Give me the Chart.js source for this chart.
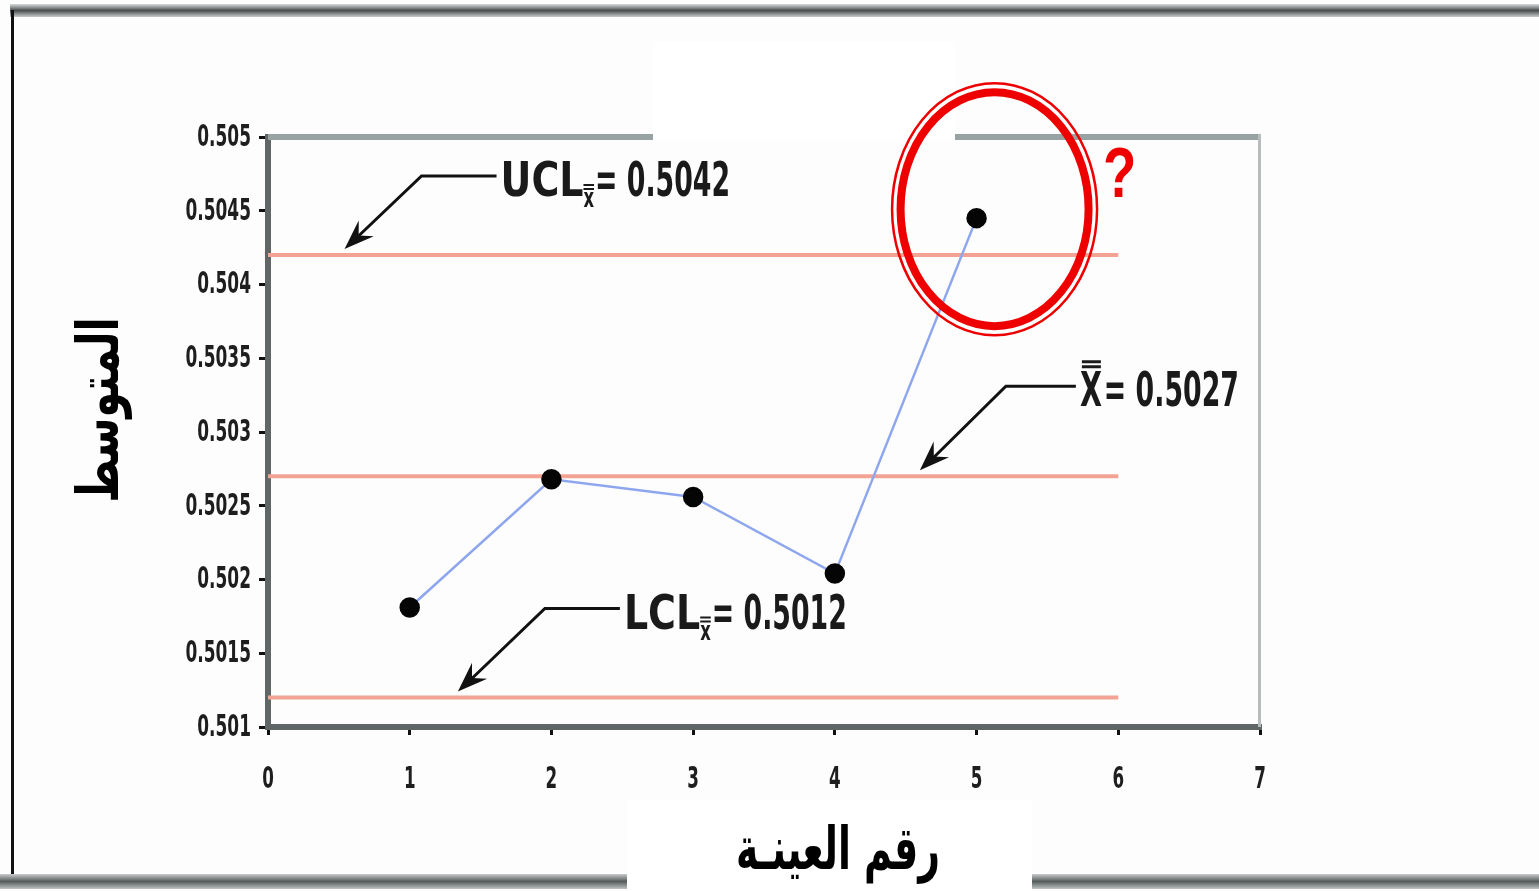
<!DOCTYPE html>
<html>
<head>
<meta charset="utf-8">
<script src="https://cdn.jsdelivr.net/npm/chart.js@4.4.1/dist/chart.umd.min.js"></script>
<style>
html,body{margin:0;padding:0;background:#fff;}
#wrap{width:1539px;height:891px;position:relative;}
canvas{display:block;}
</style>
</head>
<body>
<div id="wrap"><canvas id="c" width="1539" height="891"></canvas></div>
<script>
// ---- data ----
const sampleNumbers = [1, 2, 3, 4, 5];
const sampleMeans = [0.50181, 0.50268, 0.50256, 0.50204, 0.50445];
const controlNames = ['UCL', 'CL', 'LCL'];
const controlValues = [0.5042, 0.5027, 0.5012];
const controlSpan = [0, 6];
const xTickValues = [0, 1, 2, 3, 4, 5, 6, 7];
const yTickLabels = ['0.501', '0.5015', '0.502', '0.5025', '0.503', '0.5035', '0.504', '0.5045', '0.505'];
const xTitle = 'رقم العينـة';
const yTitle = 'المتوسط';

const COND = '"DejaVu Sans Condensed","Liberation Sans Narrow","DejaVu Sans",sans-serif';
const AR = '"DejaVu Sans","Noto Sans",sans-serif';

const lineDatasets = controlValues.map((v, i) => ({
  label: controlNames[i],
  data: controlSpan.map(x => ({x: x, y: v})),
  borderColor: '#f2a394',
  borderWidth: 4,
  pointRadius: 0,
  showLine: true,
  order: 2
}));

const meanDataset = {
  label: 'mean',
  data: sampleNumbers.map((x, i) => ({x: x, y: sampleMeans[i]})),
  borderColor: '#8ea6ee',
  borderWidth: 2.5,
  pointRadius: 9,
  pointBackgroundColor: '#050505',
  pointBorderColor: '#050505',
  showLine: true,
  order: 1
};

// annotation: tip x in data units on the given control line; offsets in px
const annotations = [
  {lineIdx: 0, tipX: 0.54, dx1: 77, dy1: -73, len: 75, kind: 'ucl', text: '= 0.5042'},
  {lineIdx: 1, tipX: 4.6, dx1: 86, dy1: -84, len: 70, kind: 'cl', text: '= 0.5027'},
  {lineIdx: 2, tipX: 1.34, dx1: 87, dy1: -83, len: 75, kind: 'lcl', text: '= 0.5012'}
];

function arrow(ctx, x0, y0, x1, y1) {
  const ang = Math.atan2(y1 - y0, x1 - x0);
  const L = 30, W = 11;
  const bx = x1 - L * Math.cos(ang), by = y1 - L * Math.sin(ang);
  ctx.beginPath();
  ctx.moveTo(x1, y1);
  ctx.lineTo(bx + W * Math.sin(ang), by - W * Math.cos(ang));
  ctx.lineTo(bx + 0.35 * L * Math.cos(ang), by + 0.35 * L * Math.sin(ang));
  ctx.lineTo(bx - W * Math.sin(ang), by + W * Math.cos(ang));
  ctx.closePath();
  ctx.fill();
}

// draw text horizontally squeezed; align: 'left' | 'right' | 'center'
function sq(ctx, text, x, y, sx, align) {
  const w = ctx.measureText(text).width * sx;
  let x0 = x;
  if (align === 'right') x0 = x - w;
  else if (align === 'center') x0 = x - w / 2;
  ctx.save();
  ctx.translate(x0, y);
  ctx.scale(sx, 1);
  ctx.textAlign = 'left';
  ctx.fillText(text, 0, 0);
  ctx.restore();
  return w;
}

const decor = {
  id: 'decor',
  beforeDraw(chart) {
    const ctx = chart.ctx;
    ctx.save();
    ctx.fillStyle = '#fdfdfd';
    ctx.fillRect(0, 0, chart.width, chart.height);
    let g = ctx.createLinearGradient(0, 4, 0, 17);
    g.addColorStop(0, '#d8dcdc'); g.addColorStop(0.5, '#4a4e4e'); g.addColorStop(1, '#c8cccc');
    ctx.fillStyle = g;
    ctx.fillRect(10, 4, chart.width - 10, 13);
    ctx.fillStyle = '#111';
    ctx.fillRect(11, 10, 3, 870);
    g = ctx.createLinearGradient(0, 874, 0, 889);
    g.addColorStop(0, '#c8cccc'); g.addColorStop(0.5, '#555a5a'); g.addColorStop(1, '#c0c4c4');
    ctx.fillStyle = g;
    ctx.fillRect(0, 874, chart.width, 15);
    ctx.fillStyle = '#fff';
    ctx.fillRect(627, 800, 405, 91);
    ctx.restore();
  },
  beforeDatasetsDraw(chart) {
    const ctx = chart.ctx, a = chart.chartArea;
    ctx.save();
    ctx.fillStyle = '#98a2a2';
    ctx.fillRect(a.left, a.top - 3, a.right - a.left, 6);
    ctx.fillStyle = '#fff';
    ctx.fillRect(653, 42, 302, a.top - 42 + 4);
    ctx.fillStyle = '#b4bcbc';
    ctx.fillRect(a.right - 2, a.top - 3, 3, a.bottom - a.top + 3);
    ctx.restore();
  },
  afterDraw(chart) {
    const ctx = chart.ctx;
    const xs = chart.scales.x, ys = chart.scales.y;
    ctx.save();
    // tick labels (condensed), placed through the scales
    ctx.fillStyle = '#1e1e1e';
    ctx.font = 'bold 30px ' + COND;
    ctx.textBaseline = 'middle';
    ys.ticks.forEach((t, i) => {
      sq(ctx, yTickLabels[i], ys.right - 17, ys.getPixelForValue(t.value) + 1, 0.63, 'right');
    });
    xs.ticks.forEach(t => {
      sq(ctx, String(t.value), xs.getPixelForValue(t.value), xs.top + 53, 0.62, 'center');
    });
    // annotations
    annotations.forEach(an => {
      const tx = xs.getPixelForValue(an.tipX);
      const ty = ys.getPixelForValue(controlValues[an.lineIdx]) - 6;
      const ex = tx + an.dx1, ey = ty + an.dy1;
      const hx = ex + an.len;
      ctx.strokeStyle = '#111';
      ctx.fillStyle = '#111';
      ctx.lineWidth = 3;
      ctx.beginPath();
      ctx.moveTo(hx, ey); ctx.lineTo(ex, ey); ctx.lineTo(tx + 14, ty - 13);
      ctx.stroke();
      arrow(ctx, ex, ey, tx, ty);
      ctx.fillStyle = '#1a1a1a';
      ctx.textBaseline = 'alphabetic';
      const base = ey + 20;
      let x = hx + 4;
      ctx.font = 'bold 48px ' + COND;
      if (an.kind === 'cl') {
        const w = sq(ctx, 'X', x, base, 0.66, 'left');
        ctx.fillRect(x + 2, base - 41, w - 3, 3);
        ctx.fillRect(x + 2, base - 46, w - 3, 3);
        x += w + 2;
      } else {
        const head = an.kind === 'ucl' ? 'UCL' : 'LCL';
        x += sq(ctx, head, x, base, 0.88, 'left');
        ctx.font = 'bold 26px ' + COND;
        const w = sq(ctx, 'x', x, base + 11, 0.7, 'left');
        ctx.fillRect(x, base - 8, w, 2);
        ctx.fillRect(x, base - 12, w, 2);
        x += w + 1;
        ctx.font = 'bold 48px ' + COND;
      }
      sq(ctx, an.text, x, base, 0.62, 'left');
    });
    // red circle
    const cx = xs.getPixelForValue(sampleNumbers[4]) + 18, cy = ys.getPixelForValue(sampleMeans[4]) - 9;
    ctx.strokeStyle = '#ee0000';
    ctx.lineWidth = 8;
    ctx.beginPath(); ctx.ellipse(cx, cy, 94, 117, 0, 0, Math.PI * 2); ctx.stroke();
    ctx.lineWidth = 2.5;
    ctx.beginPath(); ctx.ellipse(cx, cy, 102.5, 126, 0, 0, Math.PI * 2); ctx.stroke();
    ctx.fillStyle = '#ee0000';
    ctx.font = 'bold 70px "Liberation Sans",Arial,sans-serif';
    ctx.textBaseline = 'alphabetic';
    sq(ctx, '?', cx + 125, 197, 0.78, 'center');
    // axis titles
    ctx.fillStyle = '#000';
    ctx.font = 'bold 46px ' + AR;
    ctx.textAlign = 'center';
    ctx.textBaseline = 'middle';
    ctx.direction = 'rtl';
    ctx.save();
    ctx.translate(838, 853);
    ctx.scale(0.82, 1.3);
    ctx.fillText(xTitle, 0, 0);
    ctx.restore();
    ctx.translate(103, 410);
    ctx.rotate(-Math.PI / 2);
    ctx.scale(0.9, 1.25);
    ctx.fillText(yTitle, 0, 0);
    ctx.restore();
  }
};

new Chart(document.getElementById('c'), {
  type: 'scatter',
  data: {datasets: [...lineDatasets, meanDataset]},
  options: {
    responsive: false,
    animation: false,
    layout: {padding: {left: 0, top: 137, right: 279, bottom: 0}},
    plugins: {legend: {display: false}, tooltip: {enabled: false}},
    scales: {
      x: {
        type: 'linear', min: 0, max: 7,
        afterFit(s) { s.height = 164; },
        afterBuildTicks(s) { s.ticks = xTickValues.map(v => ({value: v})); },
        border: {color: '#606666', width: 6},
        grid: {display: true, drawOnChartArea: false, color: '#111', tickLength: 8, lineWidth: 3},
        ticks: {color: 'rgba(0,0,0,0)', padding: 22, font: {family: COND, size: 28, weight: 'bold'},
                callback: v => String(v)}
      },
      y: {
        type: 'linear', min: 0.501, max: 0.505,
        afterFit(s) { s.width = 268; },
        afterBuildTicks(s) { s.ticks = yTickLabels.map(t => ({value: parseFloat(t)})); },
        border: {color: '#606666', width: 6},
        grid: {display: true, drawOnChartArea: false, color: '#111', tickLength: 9, lineWidth: 3},
        ticks: {color: 'rgba(0,0,0,0)', padding: 6, font: {family: COND, size: 27, weight: 'bold'},
                callback: (v, i) => yTickLabels[i]}
      }
    }
  },
  plugins: [decor]
});
</script>
</body>
</html>
